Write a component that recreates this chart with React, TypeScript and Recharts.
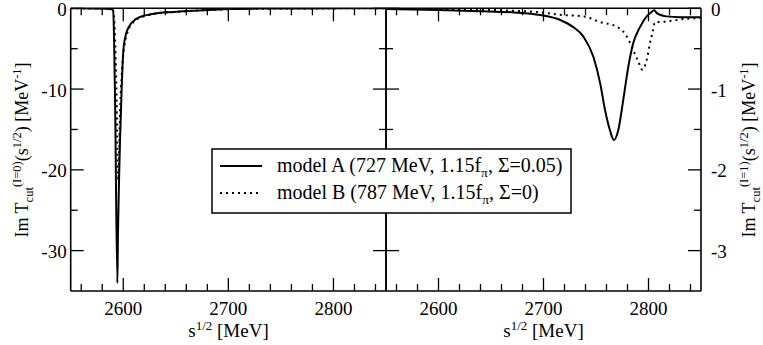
import React from "react";
import { LineChart, Line, XAxis, YAxis } from "recharts";

const FONT = '"Liberation Serif", "Times New Roman", serif';

// I=0 panel (left), model A and model B
const i0AX = [2550, 2570, 2585, 2589, 2590.4, 2592.2, 2594.4, 2595, 2596, 2597, 2598, 2598.6, 2599.3, 2600.1, 2601.7, 2603, 2604.9, 2607, 2609.6, 2614, 2619, 2625, 2632, 2641, 2651, 2665, 2680, 2702, 2730, 2770, 2850];
const i0AY = [0, -0.01, -0.05, -0.12, -0.3, -11.3, -34, -27.8, -21.3, -16, -12, -9.5, -7.2, -5.2, -3.7, -3.0, -2.4, -1.95, -1.6, -1.2, -0.95, -0.78, -0.62, -0.5, -0.42, -0.3, -0.21, -0.09, -0.04, -0.01, 0];
const i0BX = [2550, 2585, 2590, 2591.5, 2593.5, 2595.3, 2596.2, 2597.3, 2598.5, 2599.5, 2600.6, 2602.3, 2605.5, 2610, 2615, 2620, 2632, 2651, 2680, 2702, 2740, 2800, 2850];
const i0BY = [0, -0.05, -0.2, -1.5, -10, -21.3, -17, -11.5, -8.5, -6.5, -5.2, -3.8, -2.5, -1.65, -1.2, -0.98, -0.64, -0.44, -0.22, -0.1, -0.04, -0.01, 0];

// I=1 panel (right)
const i1AX = [2550, 2600, 2640, 2670, 2697, 2716, 2728, 2738, 2747.5, 2754, 2758.6, 2763.3, 2767, 2771.2, 2776, 2780.8, 2785.5, 2792, 2798.3, 2802, 2805.5, 2808, 2811, 2817, 2830, 2850];
const i1AY = [-0.01, -0.02, -0.035, -0.05, -0.083, -0.145, -0.23, -0.35, -0.6, -0.93, -1.26, -1.51, -1.63, -1.51, -1.13, -0.72, -0.43, -0.23, -0.1, -0.055, -0.025, -0.06, -0.08, -0.1, -0.11, -0.11];
const i1BX = [2550, 2620, 2670, 2697, 2716, 2738, 2754, 2770, 2776, 2781, 2785.5, 2790.3, 2794.1, 2798.3, 2801.4, 2804, 2806.2, 2811, 2823.6, 2836, 2850];
const i1BY = [0, -0.01, -0.03, -0.05, -0.08, -0.1, -0.17, -0.23, -0.29, -0.39, -0.52, -0.66, -0.76, -0.64, -0.43, -0.29, -0.17, -0.17, -0.15, -0.13, -0.12];

const xTicks = [2560, 2580, 2600, 2620, 2640, 2660, 2680, 2700, 2720, 2740, 2760, 2780, 2800, 2820, 2840];
const xLabels = [2600, 2700, 2800];
const i0Ticks = [0, -5, -10, -15, -20, -25, -30];
const i0Labels = [0, -10, -20, -30];
const i1Ticks = [0, -0.5, -1, -1.5, -2, -2.5, -3];
const i1Labels = [0, -1, -2, -3];

const legendA = "model A (727 MeV, 1.15f";
const legendASuffix = ", Σ=0.05)";
const legendB = "model B (787 MeV, 1.15f";
const legendBSuffix = ", Σ=0)";

function pts(xs: number[], ys: number[]) {
  return xs.map((x, i) => ({ x, y: ys[i] }));
}

// inward tick marks, labels only on major ticks
function tickFn(side: "bottom" | "top" | "left" | "right", majors: number[], showLabel: boolean) {
  return (props: any) => {
    const { x, y, payload } = props;
    const v = payload.value;
    const major = majors.includes(v);
    const len = major ? 13 : 7;
    let x2 = x;
    let y2 = y;
    if (side === "bottom") y2 = y - len;
    if (side === "top") y2 = y + len;
    if (side === "left") x2 = x + len;
    if (side === "right") x2 = x - len;
    let label = null;
    if (showLabel && major) {
      if (side === "bottom")
        label = <text x={x} y={y + 24} textAnchor="middle" fontSize={19} fontFamily={FONT} fill="#000">{String(v)}</text>;
      if (side === "left")
        label = <text x={x - 4} y={y + 7.5} textAnchor="end" fontSize={19} fontFamily={FONT} fill="#000">{String(v)}</text>;
      if (side === "right")
        label = <text x={x + 10} y={y + 7.5} textAnchor="start" fontSize={19} fontFamily={FONT} fill="#000">{String(v)}</text>;
    }
    return (
      <g>
        <line x1={x} y1={y} x2={x2} y2={y2} stroke="#000" strokeWidth={1.3} />
        {label}
      </g>
    );
  };
}

const axisLine = { stroke: "#000", strokeWidth: 1.6 };

function Panel(props: {
  width: number;
  margin: any;
  yTicks: number[];
  yLabels: number[];
  yDomain: number[];
  labelSide: "left" | "right";
  leftW: number;
  rightW: number;
  a: { x: number; y: number }[];
  b: { x: number; y: number }[];
}) {
  const { width, margin, yTicks, yLabels, yDomain, labelSide, leftW, rightW, a, b } = props;
  const dataAxis = labelSide === "left" ? "l" : "r";
  return (
    <LineChart width={width} height={345} margin={margin}>
      <XAxis xAxisId="b" dataKey="x" type="number" domain={[2550, 2850]} allowDataOverflow ticks={xTicks} interval={0}
        height={54} tickSize={0} tickMargin={0} axisLine={axisLine} tickLine={false}
        tick={tickFn("bottom", xLabels, true)} />
      <XAxis xAxisId="t" orientation="top" dataKey="x" type="number" domain={[2550, 2850]} allowDataOverflow ticks={xTicks} interval={0}
        height={1} tickSize={0} tickMargin={0} axisLine={axisLine} tickLine={false}
        tick={tickFn("top", xLabels, false)} />
      <YAxis yAxisId="l" orientation="left" type="number" domain={yDomain} allowDataOverflow ticks={yTicks} interval={0}
        width={leftW} tickSize={0} tickMargin={0} axisLine={axisLine} tickLine={false}
        tick={tickFn("left", yLabels, labelSide === "left")} />
      <YAxis yAxisId="r" orientation="right" type="number" domain={yDomain} allowDataOverflow ticks={yTicks} interval={0}
        width={rightW} tickSize={0} tickMargin={0} axisLine={axisLine} tickLine={false}
        tick={tickFn("right", yLabels, labelSide === "right")} />
      <Line xAxisId="b" yAxisId={dataAxis} data={b} dataKey="y" type="monotone" stroke="#000" strokeWidth={2}
        strokeDasharray="2 4" dot={false} isAnimationActive={false} />
      <Line xAxisId="b" yAxisId={dataAxis} data={a} dataKey="y" type="monotone" stroke="#000" strokeWidth={2}
        dot={false} isAnimationActive={false} />
    </LineChart>
  );
}

function YTitle(props: { x: number; cx: number; iso: string }) {
  const { x, cx, iso } = props;
  return (
    <text transform={`translate(${x},${cx}) rotate(-90)`} textAnchor="middle" fontSize={18} fontFamily={FONT} fill="#000">
      Im T
      <tspan dy={5} fontSize={12.5}>cut</tspan>
      <tspan dy={-12} fontSize={12.5}>{`(I=${iso})`}</tspan>
      <tspan dy={7}>(s</tspan>
      <tspan dy={-7} fontSize={12.5}>1/2</tspan>
      <tspan dy={7}>) [MeV</tspan>
      <tspan dy={-7} fontSize={12.5}>-1</tspan>
      <tspan dy={7}>]</tspan>
    </text>
  );
}

function XTitle(props: { cx: number }) {
  return (
    <text x={props.cx} y={337} textAnchor="middle" fontSize={19} fontFamily={FONT} fill="#000">
      s<tspan dy={-7} fontSize={13}>1/2</tspan>
      <tspan dy={7}> [MeV]</tspan>
    </text>
  );
}

export default function App() {
  return (
    <div style={{ position: "absolute", left: 0, top: 0, width: 763, height: 345, background: "#fff", fontFamily: FONT }}>
      <div style={{ position: "absolute", left: 0, top: 0 }}>
        <Panel width={396} margin={{ top: 7.3, right: 9, bottom: 0, left: 0 }} yTicks={i0Ticks} yLabels={i0Labels}
          yDomain={[-35, 0]} labelSide="left" leftW={70.7} rightW={1} a={pts(i0AX, i0AY)} b={pts(i0BX, i0BY)} />
      </div>
      <div style={{ position: "absolute", left: 376, top: 0 }}>
        <Panel width={387} margin={{ top: 7.3, right: 0, bottom: 0, left: 9 }} yTicks={i1Ticks} yLabels={i1Labels}
          yDomain={[-3.5, 0]} labelSide="right" leftW={1} rightW={62} a={pts(i1AX, i1AY)} b={pts(i1BX, i1BY)} />
      </div>
      <svg width={763} height={345} style={{ position: "absolute", left: 0, top: 0, pointerEvents: "none" }}>
        <YTitle x={28} cx={150} iso="0" />
        <YTitle x={755} cx={150} iso="1" />
        <XTitle cx={228.5} />
        <XTitle cx={543.5} />
        <rect x={212} y={149} width={359} height={64} fill="#fff" stroke="#000" strokeWidth={1.5} />
        <line x1={220} y1={166} x2={262} y2={166} stroke="#000" strokeWidth={2} />
        <line x1={220} y1={193} x2={262} y2={193} stroke="#000" strokeWidth={2} strokeDasharray="2 4" />
        <text x={277} y={172} fontSize={20} fontFamily={FONT} fill="#000">
          {legendA}
          <tspan dy={5} fontSize={13.5}>π</tspan>
          <tspan dy={-5}>{legendASuffix}</tspan>
        </text>
        <text x={277} y={199} fontSize={20} fontFamily={FONT} fill="#000">
          {legendB}
          <tspan dy={5} fontSize={13.5}>π</tspan>
          <tspan dy={-5}>{legendBSuffix}</tspan>
        </text>
      </svg>
    </div>
  );
}
